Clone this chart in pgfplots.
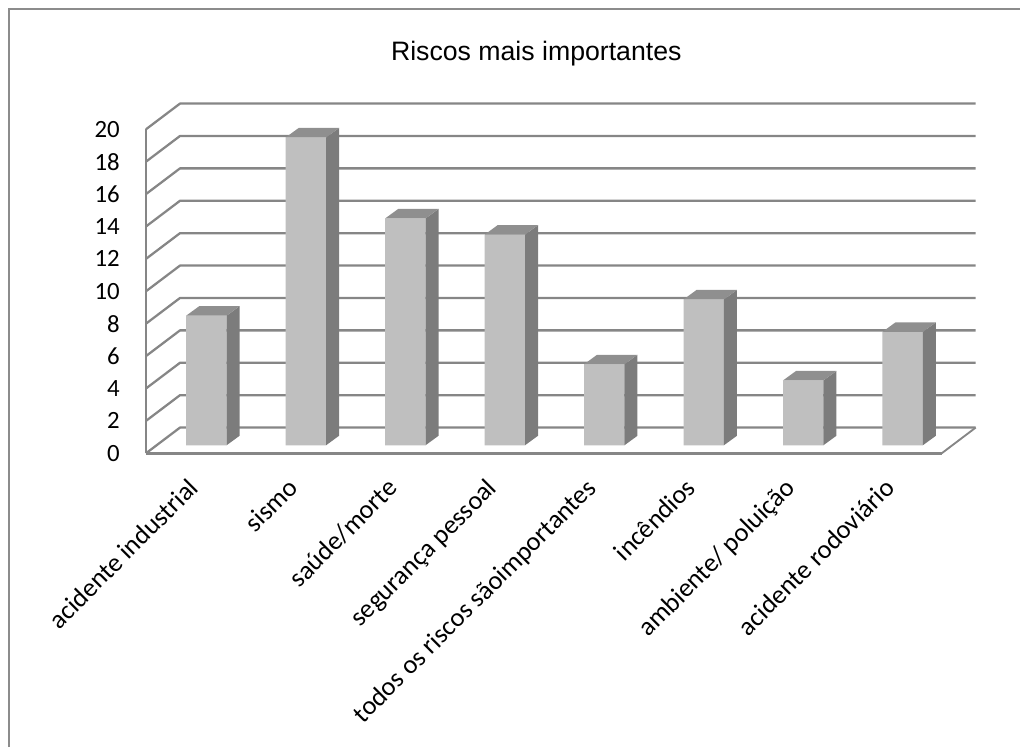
\documentclass[border=0pt]{standalone}
\usepackage{pgfplots}
\usepackage{pgfplotstable}
\usepackage{fontspec}
\setmainfont{Carlito}
\newfontfamily\titlefont{Liberation Sans}
\pgfplotsset{compat=1.18}
\definecolor{gridgray}{HTML}{868686}
\definecolor{barfront}{HTML}{BFBFBF}
\definecolor{barside}{HTML}{7C7C7C}
\definecolor{bartop}{HTML}{8F8F8F}
\definecolor{framegray}{HTML}{8C8C8C}

\pgfplotstableread{
i v
0 8
1 19
2 14
3 13
4 5
5 9
6 4
7 7
}\riskdata

\pgfplotsset{plane/.style={
  scale only axis, width=596.8pt, height=243pt,
  xmin=-0.5, xmax=7.5, ymin=0, ymax=20, clip=false}}

\begin{document}
\begin{tikzpicture}
\useasboundingbox (0,0) rectangle (765pt,560.25pt);
% outer chart frame
\draw[framegray, line width=1.1pt] (6.8pt,0) -- (6.8pt,553.4pt) -- (765pt,553.4pt);

% walls, floor and axis labels of the chart box
\begin{axis}[plane,
  at={(109.5pt,220.3pt)}, anchor=south west,
  axis lines*=left, axis line style={-, gridgray, line width=1.9pt},
  major tick length=0pt,
  xtick={0,...,7},
  xticklabels={acidente industrial, sismo, saúde/morte, segurança pessoal,
    todos os riscos sãoimportantes, incêndios, ambiente/ poluição, acidente rodoviário},
  x tick label style={rotate=45, anchor=north east, font=\fontsize{19.8}{21}\selectfont,
    inner sep=0pt, yshift=-7.5pt, xshift=-17pt},
  ytick={0,2,...,20},
  y tick label style={font=\fontsize{18.6}{20}\selectfont, inner sep=0pt, xshift=-19.5pt},
  /pgf/number format/assume math mode=true,
  title={\titlefont\fontsize{20}{22}\selectfont Riscos mais importantes},
  title style={at={(0.4905,1)}, anchor=base, yshift=45.5pt, inner sep=0pt},
]
\pgfplotsforeachungrouped \g in {0,2,...,20}{
  \pgfmathsetmacro\gb{\g+1.586}
  \edef\gridline{\noexpand\addplot[gridgray, line width=1.7pt, line join=round, forget plot]
    coordinates {(-0.5,\g) (-0.1582,\gb) (7.8418,\gb)};}
  \gridline
}
\addplot[gridgray, line width=1.4pt, forget plot] coordinates {(7.5,0) (7.8418,1.586)};
\end{axis}

% bars, standing slightly in front of the back wall
\begin{axis}[plane,
  at={(117.5pt,226.3pt)}, anchor=south west,
  axis lines=none,
]
\addplot[ybar, bar width=30.3pt, bar shift=0pt, draw=none, fill=barfront]
  table[x=i, y=v] {\riskdata};
\pgfplotsforeachungrouped \k in {0,...,7}{
  \pgfplotstablegetelem{\k}{v}\of\riskdata
  \let\val\pgfplotsretval
  \pgfmathsetmacro\xa{\k-0.2031}
  \pgfmathsetmacro\xb{\k+0.2031}
  \pgfmathsetmacro\xc{\k+0.2031+0.1307}
  \pgfmathsetmacro\xd{\k-0.2031+0.1307}
  \pgfmathsetmacro\vt{\val+0.586}
  \edef\faces{%
    \noexpand\addplot[fill=barside, draw=none, forget plot]
      coordinates {(\xb,0) (\xc,0.586) (\xc,\vt) (\xb,\val)} -- cycle;
    \noexpand\addplot[fill=bartop, draw=none, forget plot]
      coordinates {(\xa,\val) (\xb,\val) (\xc,\vt) (\xd,\vt)} -- cycle;}
  \faces
}
\end{axis}
\end{tikzpicture}
\end{document}
